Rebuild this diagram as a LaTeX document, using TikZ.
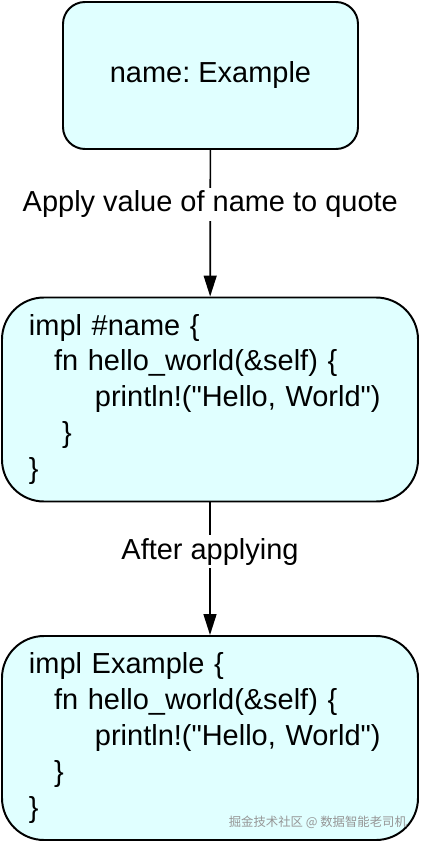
\documentclass[tikz,border=0pt]{standalone}
\usepackage{fontspec}
\setmainfont{Liberation Sans}
\newfontfamily\codefont{Liberation Sans}
\newfontfamily\cjk{Noto Sans CJK SC}
\usetikzlibrary{arrows.meta}
\definecolor{boxcyan}{RGB}{224,255,255}
\definecolor{wmgrey}{RGB}{150,150,150}
\newcommand{\dq}{{\codefont\symbol{34}}}

\begin{document}
\begin{tikzpicture}[
  every node/.style={font=\fontsize{20.6}{25.6}\selectfont\frenchspacing},
  val/.style={draw=black,fill=boxcyan,line width=1.4pt,rounded corners=0.55cm,minimum width=7.375cm,minimum height=3.675cm},
  code/.style={draw=black,fill=boxcyan,line width=1.4pt,rounded corners=1.05cm,align=left,text width=9.05cm,inner xsep=0.675cm,minimum height=5.1cm},
  lbl/.style={fill=white,inner sep=2pt,pos=0.37},
  ar/.style={-{Triangle[length=0.52cm,width=0.32cm]},line width=1.2pt}]
\useasboundingbox (0,0) rectangle (10.55,-21.05);
\node[val] (name) at (5.2625,-1.8875) {name: Example};
\node[code] (tmpl) at (5.25,-9.9875) {impl \#name \{\\
  \hspace*{0.625cm}fn hello\_world(\&self) \{\\
  \hspace*{1.65cm}println!(\dq Hello, World\dq)\\
  \hspace*{0.825cm}\}\\
  \}};
\node[code] (impl) at (5.25,-18.45) {impl Example \{\\
  \hspace*{0.625cm}fn hello\_world(\&self) \{\\
  \hspace*{1.65cm}println!(\dq Hello, World\dq)\\
  \hspace*{0.625cm}\}\\
  \}};
\node[font=\cjk\fontsize{8.8}{10}\selectfont,text=wmgrey,anchor=east,inner sep=0pt] (wm) at (10.18,-20.55) {掘金技术社区 @ 数据智能老司机};
\draw[ar] (name) -- node[lbl]{Apply value of name to quote} (tmpl);
\draw[ar] (tmpl) -- node[lbl]{After applying} (impl);
\end{tikzpicture}
\end{document}
